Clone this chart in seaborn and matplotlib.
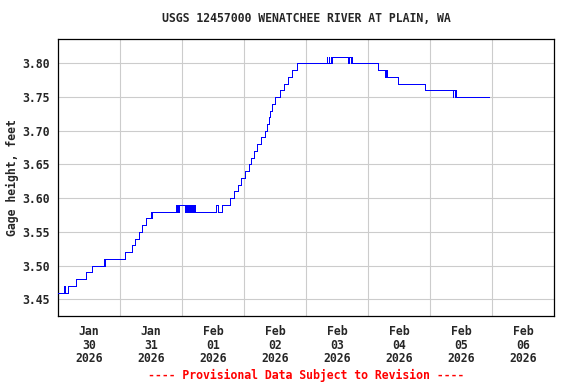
import matplotlib
matplotlib.use("Agg")
import matplotlib.pyplot as plt
import seaborn as sns
import pandas as pd

# ---- data: level change points (hours since 2026-01-30 00:00, gage height ft)
hours = [0.0, 2.5, 2.75, 4.0, 7.0, 11.0, 13.25, 17.75, 18.0, 18.25,
         26.0, 28.5, 29.75, 31.25, 32.5, 34.25, 36.0, 36.25, 36.5,
         45.75, 46.0, 46.5, 46.75, 47.0, 49.25, 49.5, 50.0, 50.25, 50.75,
         51.0, 51.5, 51.75, 52.25, 52.75, 53.0,
         61.25, 61.75, 63.5, 66.75, 68.0, 69.75, 71.0, 72.5, 74.0, 74.75,
         75.75, 77.0, 78.5, 80.25, 81.0, 81.5, 82.25, 83.0, 84.0, 86.0,
         87.5, 89.0, 90.5, 92.5,
         104.0, 104.25, 104.75, 105.0, 105.5, 105.75, 106.0,
         112.25, 112.5, 113.25, 113.5, 113.75,
         124.0, 126.75, 127.0, 127.5, 131.75, 142.0,
         152.75, 153.0, 153.5, 153.75, 154.25, 166.75]
gage_ft = [3.46, 3.47, 3.46, 3.47, 3.48, 3.49, 3.50, 3.51, 3.50, 3.51,
           3.52, 3.53, 3.54, 3.55, 3.56, 3.57, 3.58, 3.57, 3.58,
           3.59, 3.58, 3.59, 3.58, 3.59, 3.58, 3.59, 3.58, 3.59, 3.58,
           3.59, 3.58, 3.59, 3.58, 3.59, 3.58,
           3.59, 3.58, 3.59, 3.60, 3.61, 3.62, 3.63, 3.64, 3.65, 3.66,
           3.67, 3.68, 3.69, 3.70, 3.71, 3.72, 3.73, 3.74, 3.75, 3.76,
           3.77, 3.78, 3.79, 3.80,
           3.81, 3.80, 3.81, 3.80, 3.81, 3.80, 3.81,
           3.80, 3.81, 3.80, 3.81, 3.80,
           3.79, 3.78, 3.79, 3.78, 3.77, 3.76,
           3.75, 3.76, 3.75, 3.76, 3.75, 3.75]

start = pd.Timestamp("2026-01-30 00:00")
day_starts = pd.date_range("2026-01-30", "2026-02-07", freq="D")
tick_labels = ["Jan\n30\n2026", "Jan\n31\n2026", "Feb\n01\n2026", "Feb\n02\n2026",
               "Feb\n03\n2026", "Feb\n04\n2026", "Feb\n05\n2026", "Feb\n06\n2026"]
y_ticks = [3.45, 3.50, 3.55, 3.60, 3.65, 3.70, 3.75, 3.80]

df = pd.DataFrame({"time": start + pd.to_timedelta(hours, unit="h"), "gage": gage_ft})

sns.set_style("white")
plt.rcParams["font.family"] = ["DejaVu Sans Mono"]
plt.rcParams["font.weight"] = "bold"

fig = plt.figure(figsize=(5.76, 3.84), dpi=100)
ax = fig.add_axes([58/576, 1-315.7/384, (554-58)/576, (315.7-39.3)/384])

sns.lineplot(data=df, x="time", y="gage", ax=ax, color="#0000ff", linewidth=0.72,
             drawstyle="steps-post", estimator=None, sort=False, zorder=3,
             antialiased=False)

ax.set_xlim(day_starts[0], day_starts[-1])
ax.set_ylim(3.4257, 3.8356)

ax.set_xticks(day_starts[1:-1])
ax.set_xticklabels([])
noon = day_starts[:-1] + pd.Timedelta(hours=12)
ax.set_xticks(noon, minor=True)
ax.set_xticklabels(tick_labels, minor=True, fontsize=8.3, fontweight="bold",
                   linespacing=1.05)
ax.set_yticks(y_ticks)
ax.set_yticklabels([f"{v:.2f}" for v in y_ticks], fontsize=8.3, fontweight="bold")
ax.tick_params(axis="both", which="both", length=0)
ax.tick_params(axis="x", which="minor", pad=7)
ax.tick_params(axis="y", pad=6)

ax.grid(True, which="major", color="#cccccc", linewidth=0.8)
ax.set_axisbelow(True)
for s in ax.spines.values():
    s.set_visible(True)
    s.set_color("black")
    s.set_linewidth(0.9)

ax.set_xlabel("")
ax.set_ylabel("Gage height, feet", fontsize=8.3, fontweight="bold")
ax.yaxis.set_label_coords((19 - 58) / 496, 0.5)

cx = (58 + 554) / 2 / 576
fig.text(cx, 1 - 19/384, "USGS 12457000 WENATCHEE RIVER AT PLAIN, WA",
         ha="center", va="center", fontsize=8.3, fontweight="bold")
fig.text(cx, 1 - 375/384, "---- Provisional Data Subject to Revision ----",
         ha="center", va="center", fontsize=8.3, fontweight="bold", color="red")

fig.savefig("out.png", dpi=100)
